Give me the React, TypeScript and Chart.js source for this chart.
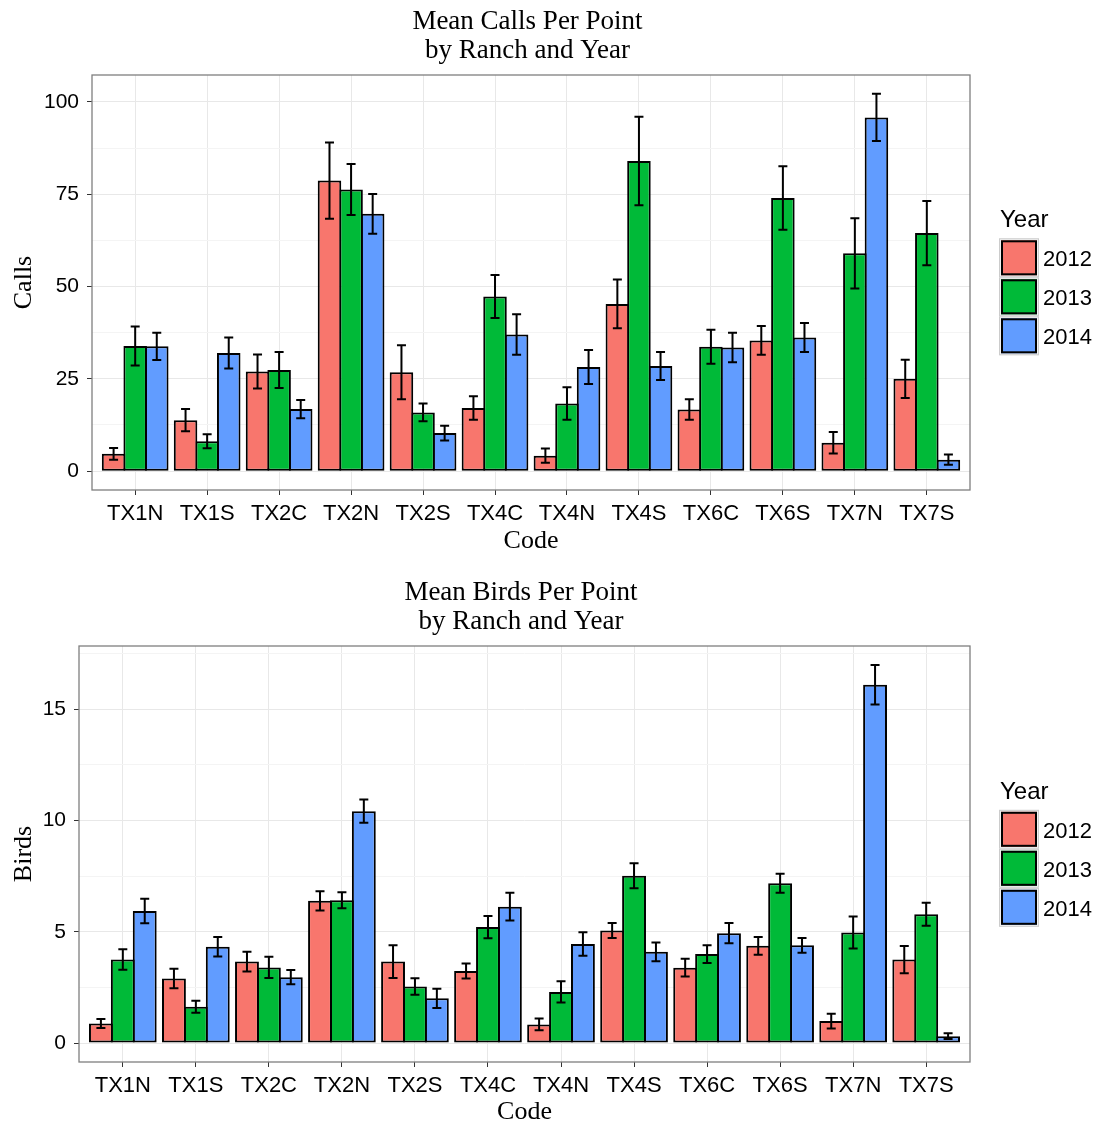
import React, { useEffect, useRef } from 'react';
import { Chart, registerables } from 'chart.js';

Chart.register(...registerables);

const codes = ['TX1N', 'TX1S', 'TX2C', 'TX2N', 'TX2S', 'TX4C', 'TX4N', 'TX4S', 'TX6C', 'TX6S', 'TX7N', 'TX7S'];
const years = ['2012', '2013', '2014'];
const yearColors = ['#F8766D', '#00BA38', '#619CFF'];

const calls2012 = [4.7, 13.8, 27.0, 78.7, 26.8, 17.1, 4.2, 45.3, 16.7, 35.4, 7.7, 25.0];
const calls2013 = [33.9, 8.1, 27.4, 76.3, 15.9, 47.3, 18.3, 84.0, 33.7, 74.0, 59.0, 64.5];
const calls2014 = [33.8, 32.0, 16.8, 69.7, 10.3, 37.0, 28.2, 28.5, 33.5, 36.2, 95.8, 3.1];
const callsErr2012 = [1.6, 3.0, 4.6, 10.3, 7.3, 3.2, 1.9, 6.6, 2.8, 3.9, 2.9, 5.2];
const callsErr2013 = [5.3, 1.9, 4.9, 6.9, 2.4, 5.8, 4.4, 12.0, 4.6, 8.6, 9.5, 8.7];
const callsErr2014 = [3.7, 4.2, 2.5, 5.4, 2.0, 5.5, 4.6, 3.8, 4.0, 3.9, 6.4, 1.4];

const birds2012 = [0.88, 2.9, 3.66, 6.39, 3.66, 3.24, 0.84, 5.06, 3.39, 4.37, 0.99, 3.75];
const birds2013 = [3.76, 1.63, 3.4, 6.42, 2.54, 5.21, 2.3, 7.52, 4.0, 7.18, 4.97, 5.79];
const birds2014 = [5.93, 4.33, 2.96, 10.42, 2.01, 6.13, 4.45, 4.1, 4.94, 4.39, 16.1, 0.31];
const birdsErr2012 = [0.2, 0.44, 0.44, 0.43, 0.74, 0.34, 0.26, 0.34, 0.4, 0.4, 0.33, 0.61];
const birdsErr2013 = [0.46, 0.27, 0.48, 0.36, 0.37, 0.5, 0.48, 0.56, 0.4, 0.43, 0.72, 0.52];
const birdsErr2014 = [0.55, 0.44, 0.32, 0.52, 0.43, 0.62, 0.53, 0.42, 0.46, 0.33, 0.89, 0.13];

const callsTicks = [0, 25, 50, 75, 100];
const birdsTicks = [0, 5, 10, 15];

const callsTitle = ['Mean Calls Per Point', 'by Ranch and Year'];
const birdsTitle = ['Mean Birds Per Point', 'by Ranch and Year'];

const SANS = '"Liberation Sans", Arial, sans-serif';
const SERIF = '"Liberation Serif", "Times New Roman", serif';

const errorBarPlugin = {
  id: 'errorBars',
  afterLayout(chart: any) {
    const t = chart.titleBlock;
    if (t) t.left -= 7;
  },
  afterDatasetsDraw(chart: any) {
    const ctx = chart.ctx;
    const yScale = chart.scales.y;
    ctx.save();
    ctx.strokeStyle = '#000';
    ctx.lineWidth = 2;
    chart.data.datasets.forEach((ds: any, d: number) => {
      const meta = chart.getDatasetMeta(d);
      meta.data.forEach((bar: any, i: number) => {
        const v = ds.data[i].y;
        const e = ds.errors[i];
        const yHi = yScale.getPixelForValue(v + e);
        const yLo = yScale.getPixelForValue(v - e);
        const cap = 4.5;
        ctx.beginPath();
        ctx.moveTo(bar.x, yHi);
        ctx.lineTo(bar.x, yLo);
        ctx.moveTo(bar.x - cap, yHi);
        ctx.lineTo(bar.x + cap, yHi);
        ctx.moveTo(bar.x - cap, yLo);
        ctx.lineTo(bar.x + cap, yLo);
        ctx.stroke();
      });
    });
    const ca = chart.chartArea;
    ctx.strokeStyle = '#7F7F7F';
    ctx.lineWidth = 1.3;
    ctx.strokeRect(ca.left, ca.top, ca.right - ca.left, ca.bottom - ca.top);
    ctx.restore();
  },
  afterDraw(chart: any) {
    const ctx = chart.ctx;
    const ca = chart.chartArea;
    const mid = (ca.top + ca.bottom) / 2;
    const x0 = ca.right + 29;
    ctx.save();
    ctx.fillStyle = '#000';
    ctx.font = '24px ' + SANS;
    ctx.textBaseline = 'middle';
    ctx.textAlign = 'left';
    ctx.fillText('Year', x0 + 1, mid - 62);
    chart.data.datasets.forEach((ds: any, i: number) => {
      const top = mid - 44.2 + i * 39;
      ctx.fillStyle = '#F2F2F2';
      ctx.fillRect(x0, top, 40, 39);
      ctx.strokeStyle = '#CCCCCC';
      ctx.lineWidth = 1;
      ctx.strokeRect(x0 + 0.5, top + 0.5, 39, 38);
      ctx.fillStyle = ds.backgroundColor;
      ctx.fillRect(x0 + 2, top + 2, 36, 35);
      ctx.strokeStyle = '#000';
      ctx.lineWidth = 2;
      ctx.strokeRect(x0 + 3, top + 3, 34, 33);
      ctx.fillStyle = '#000';
      ctx.font = '22px ' + SANS;
      ctx.fillText(ds.label, x0 + 44, top + 22);
    });
    ctx.restore();
  },
};

function makeConfig(opts: {
  title: string[];
  yTitle: string;
  series: number[][];
  errs: number[][];
  majorTicks: number[];
  yAxisWidth: number;
  xAxisHeight: number;
  padTop: number;
  padBottom: number;
}) {
  const { title, yTitle, series, errs, majorTicks, yAxisWidth, xAxisHeight, padTop, padBottom } = opts;
  let hi = 0;
  series.forEach((s, k) => s.forEach((v, i) => { hi = Math.max(hi, v + errs[k][i]); }));
  const expand = hi * 0.05;
  const yMin = -expand;
  const yMax = hi + expand;
  const step = majorTicks[1] - majorTicks[0];
  const allTicks: number[] = [];
  for (let v = majorTicks[0] - step / 2; v <= yMax; v += step / 2) {
    if (v >= yMin) allTicks.push(v);
  }
  const isMajor = (v: number) => Math.abs(v / step - Math.round(v / step)) < 1e-6;

  return {
    type: 'bar' as const,
    data: {
      labels: codes,
      datasets: series.map((s, k) => ({
        label: years[k],
        data: s.map((v, i) => ({ x: i, y: v })),
        errors: errs[k],
        backgroundColor: yearColors[k],
        borderColor: '#000',
        borderWidth: 2,
        borderSkipped: false,
        categoryPercentage: 0.9,
        barPercentage: 1.09,
      })),
    },
    options: {
      responsive: false,
      animation: false as const,
      layout: { padding: { left: 0, right: 131, top: padTop, bottom: padBottom } },
      plugins: {
        legend: { display: false },
        tooltip: { enabled: false },
        title: {
          display: true,
          fullSize: false,
          text: title,
          color: '#000',
          font: { family: SERIF, size: 27, weight: 'normal' as const, lineHeight: 29 / 27 },
          padding: { top: 7.5, bottom: 9.5 },
        },
      },
      scales: {
        x: {
          type: 'linear' as const,
          min: -0.6,
          max: codes.length - 1 + 0.6,
          offset: false,
          afterBuildTicks(scale: any) {
            scale.ticks = codes.map((_, i) => ({ value: i }));
          },
          grid: {
            offset: false,
            color: '#E8E8E8',
            lineWidth: 1,
            tickColor: '#333333',
            tickLength: 5,
          },
          border: { display: false },
          ticks: {
            color: '#000',
            font: { family: SANS, size: 22 },
            padding: 6,
            autoSkip: false,
            maxRotation: 0,
            callback: (v: any) => codes[Math.round(Number(v))] ?? '',
          },
          title: {
            display: true,
            text: 'Code',
            color: '#000',
            font: { family: SERIF, size: 26, lineHeight: 1 },
            padding: { top: 0, bottom: 1 },
          },
          afterFit(scale: any) {
            scale.height = xAxisHeight;
          },
        },
        y: {
          type: 'linear' as const,
          min: yMin,
          max: yMax,
          afterBuildTicks(scale: any) {
            scale.ticks = allTicks.map((v) => ({ value: v }));
          },
          grid: {
            color: (c: any) => (c.tick && isMajor(c.tick.value) ? '#E8E8E8' : '#F4F4F4'),
            tickColor: (c: any) => (c.tick && isMajor(c.tick.value) ? '#333333' : 'rgba(0,0,0,0)'),
            lineWidth: 1,
            tickLength: 5,
          },
          border: { display: false },
          ticks: {
            autoSkip: false,
            color: '#000',
            font: { family: SANS, size: 21 },
            padding: 8,
            callback: (v: any) => (isMajor(Number(v)) ? String(Math.round(Number(v))) : ''),
          },
          title: {
            display: true,
            text: yTitle,
            color: '#000',
            font: { family: SERIF, size: 26, lineHeight: 1 },
            padding: { top: 11, bottom: 0 },
          },
          afterFit(scale: any) {
            scale.width = yAxisWidth;
          },
        },
      },
    },
    plugins: [errorBarPlugin],
  };
}

function BarPanel(props: { config: any; height: number }) {
  const ref = useRef<HTMLCanvasElement | null>(null);
  useEffect(() => {
    if (!ref.current) return;
    const chart = new Chart(ref.current, props.config);
    return () => chart.destroy();
  }, []);
  return (
    <canvas
      ref={ref}
      width={1101}
      height={props.height}
      style={{ display: 'block', width: 1101, height: props.height }}
    />
  );
}

export default function App() {
  const callsConfig = makeConfig({
    title: callsTitle,
    yTitle: 'Calls',
    series: [calls2012, calls2013, calls2014],
    errs: [callsErr2012, callsErr2013, callsErr2014],
    majorTicks: callsTicks,
    yAxisWidth: 92,
    xAxisHeight: 65,
    padTop: 0,
    padBottom: 8,
  });
  const birdsConfig = makeConfig({
    title: birdsTitle,
    yTitle: 'Birds',
    series: [birds2012, birds2013, birds2014],
    errs: [birdsErr2012, birdsErr2013, birdsErr2014],
    majorTicks: birdsTicks,
    yAxisWidth: 79,
    xAxisHeight: 64,
    padTop: 8,
    padBottom: 0,
  });
  return (
    <div style={{ position: 'absolute', left: 0, top: 0, width: 1101, height: 1126, background: '#fff' }}>
      <BarPanel config={callsConfig} height={563} />
      <BarPanel config={birdsConfig} height={563} />
    </div>
  );
}
